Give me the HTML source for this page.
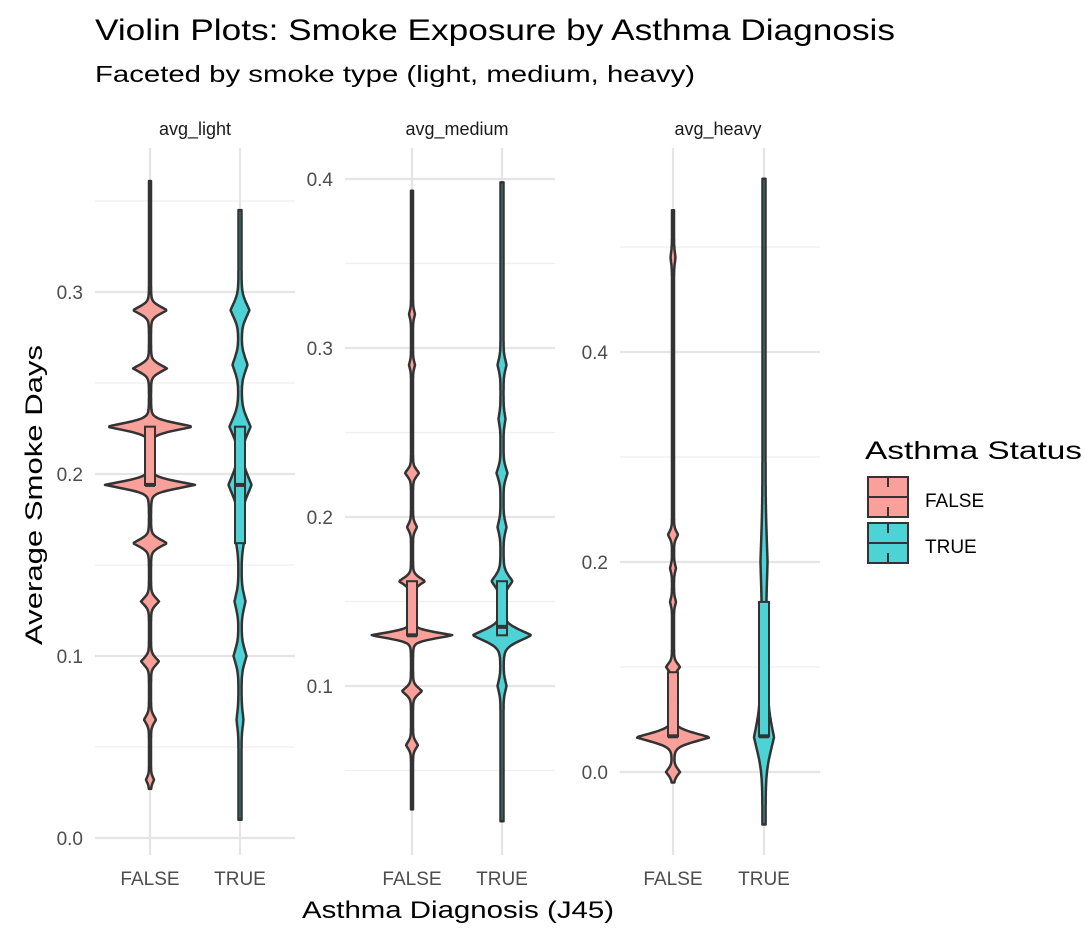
<!DOCTYPE html>
<html><head><meta charset="utf-8"><style>
body{margin:0;background:#fff}
svg{font-family:"Liberation Sans",Arial,sans-serif}
</style></head><body>
<svg id="s" width="1084" height="938" xmlns="http://www.w3.org/2000/svg">
<rect width="1084" height="938" fill="#fff"/>
<text x="95" y="40" font-size="30" fill="#000" textLength="800" lengthAdjust="spacingAndGlyphs">Violin Plots: Smoke Exposure by Asthma Diagnosis</text>
<text x="95" y="82" font-size="23" fill="#000" textLength="600" lengthAdjust="spacingAndGlyphs">Faceted by smoke type (light, medium, heavy)</text>
<text x="195" y="135" font-size="18" fill="#1a1a1a" text-anchor="middle">avg_light</text>
<text x="457" y="135" font-size="18" fill="#1a1a1a" text-anchor="middle">avg_medium</text>
<text x="718" y="135" font-size="18" fill="#1a1a1a" text-anchor="middle">avg_heavy</text>
<text x="458" y="918" font-size="24" fill="#000" text-anchor="middle" textLength="312" lengthAdjust="spacingAndGlyphs">Asthma Diagnosis (J45)</text>
<text transform="translate(42,495) rotate(-90)" font-size="24" fill="#000" text-anchor="middle" textLength="300" lengthAdjust="spacingAndGlyphs">Average Smoke Days</text>
<g id="g"></g>
<text x="865" y="459" font-size="25" fill="#000" textLength="217" lengthAdjust="spacingAndGlyphs">Asthma Status</text>
<rect x="868" y="477" width="40" height="40" fill="#F9A09A" stroke="#333" stroke-width="2"/>
<line x1="868" y1="497" x2="908" y2="497" stroke="#333" stroke-width="2"/>
<line x1="888" y1="477" x2="888" y2="487" stroke="#333" stroke-width="2"/>
<line x1="888" y1="507" x2="888" y2="517" stroke="#333" stroke-width="2"/>
<rect x="868" y="523" width="40" height="40" fill="#4DD2D6" stroke="#333" stroke-width="2"/>
<line x1="868" y1="543" x2="908" y2="543" stroke="#333" stroke-width="2"/>
<line x1="888" y1="523" x2="888" y2="533" stroke="#333" stroke-width="2"/>
<line x1="888" y1="553" x2="888" y2="563" stroke="#333" stroke-width="2"/>
<text x="925" y="507" font-size="19" fill="#000">FALSE</text>
<text x="925" y="553" font-size="19" fill="#000">TRUE</text>
</svg>
<script>
var g=document.getElementById('g'),h='';
var panels=[
{x0:95,x1:295,y0:838,pp:1820,maj:[0,0.1,0.2,0.3],min:[0.05,0.15,0.25,0.35],xs:[150,240],
 v:[{lo:0.027,hi:0.361,base:1,b:[[0.29,16,0.0025],[0.258,16,0.0025],[0.226,42,0.0025],[0.194,44,0.0025],[0.162,16,0.0025],[0.13,8,0.0025],[0.097,8,0.0025],[0.065,5,0.0025],[0.032,3,0.002]],box:[0.194,0.226,0.194]},
    {lo:0.01,hi:0.345,base:1.5,b:[[0.29,8,0.005],[0.26,6,0.005],[0.226,9,0.006],[0.194,10,0.007],[0.165,3,0.006],[0.13,4,0.005],[0.1,5,0.005],[0.065,2,0.005]],box:[0.162,0.226,0.194]}]},
{x0:345,x1:555,y0:855,pp:1690,maj:[0.1,0.2,0.3,0.4],min:[0.05,0.15,0.25,0.35],xs:[412,502],
 v:[{lo:0.027,hi:0.393,base:1,b:[[0.13,40,0.0022],[0.162,12,0.0025],[0.226,6,0.0025],[0.194,4,0.0025],[0.097,9,0.0025],[0.065,5,0.0025],[0.29,2,0.0025],[0.32,2,0.0025]],box:[0.13,0.162,0.13]},
    {lo:0.02,hi:0.398,base:1.5,b:[[0.13,28,0.004],[0.162,9,0.004],[0.226,4,0.004],[0.194,3,0.004],[0.29,3,0.004],[0.1,3,0.004],[0.258,2,0.004]],box:[0.13,0.162,0.135]}]},
{x0:620,x1:820,y0:772,pp:1050,maj:[0,0.2,0.4],min:[0.1,0.3,0.5],xs:[673,764],
 v:[{lo:-0.01,hi:0.535,base:1,b:[[0.033,36,0.005],[0.0,6,0.004],[0.1,6,0.004],[0.065,4,0.004],[0.226,4,0.004],[0.194,2,0.004],[0.162,2,0.004],[0.49,1.5,0.006]],box:[0.034,0.095,0.034]},
    {lo:-0.05,hi:0.565,base:1.5,b:[[0.033,8,0.018],[0.09,3,0.03],[0.2,2,0.03]],box:[0.034,0.162,0.034]}]}];
var fills=['#F9A09A','#4DD2D6'];
panels.forEach(function(p){
 var Y=function(v){return p.y0-v*p.pp};
 p.min.forEach(function(v){h+='<line x1="'+p.x0+'" x2="'+p.x1+'" y1="'+Y(v)+'" y2="'+Y(v)+'" stroke="#efefef" stroke-width="1.2"/>'});
 p.maj.forEach(function(v){h+='<line x1="'+p.x0+'" x2="'+p.x1+'" y1="'+Y(v)+'" y2="'+Y(v)+'" stroke="#e5e5e5" stroke-width="2.2"/>';
  h+='<text x="'+(p.x0-12)+'" y="'+(Y(v)+7)+'" font-size="19" fill="#4d4d4d" text-anchor="end">'+v.toFixed(1)+'</text>'});
 p.xs.forEach(function(x,i){h+='<line x1="'+x+'" x2="'+x+'" y1="148" y2="855" stroke="#e5e5e5" stroke-width="2.2"/>';
  h+='<text x="'+x+'" y="885" font-size="19" fill="#4d4d4d" text-anchor="middle">'+(i?'TRUE':'FALSE')+'</text>'});
 p.v.forEach(function(v,i){
  var x=p.xs[i],L=[],R=[],n=600;
  for(var k=0;k<=n;k++){var y=v.lo+(v.hi-v.lo)*k/n,w=v.base;
   v.b.forEach(function(b){var d=Math.abs(y-b[0])/b[2];w+=b[1]*Math.exp(-d*d/2)*0.5+b[1]*Math.exp(-d)*0.5});
   L.push((x-w).toFixed(1)+','+Y(y).toFixed(1));R.unshift((x+w).toFixed(1)+','+Y(y).toFixed(1));}
  h+='<polygon points="'+L.concat(R).join(' ')+'" fill="'+fills[i]+'" stroke="#333" stroke-width="2.5" stroke-linejoin="round"/>';
  var b=v.box;
  h+='<rect x="'+(x-5)+'" y="'+Y(b[1])+'" width="10" height="'+(Y(b[0])-Y(b[1]))+'" fill="'+fills[i]+'" stroke="#333" stroke-width="2"/>';
  h+='<line x1="'+(x-5)+'" x2="'+(x+5)+'" y1="'+Y(b[2])+'" y2="'+Y(b[2])+'" stroke="#333" stroke-width="4"/>';
 });
});
g.innerHTML=h;
</script>
</body></html>
